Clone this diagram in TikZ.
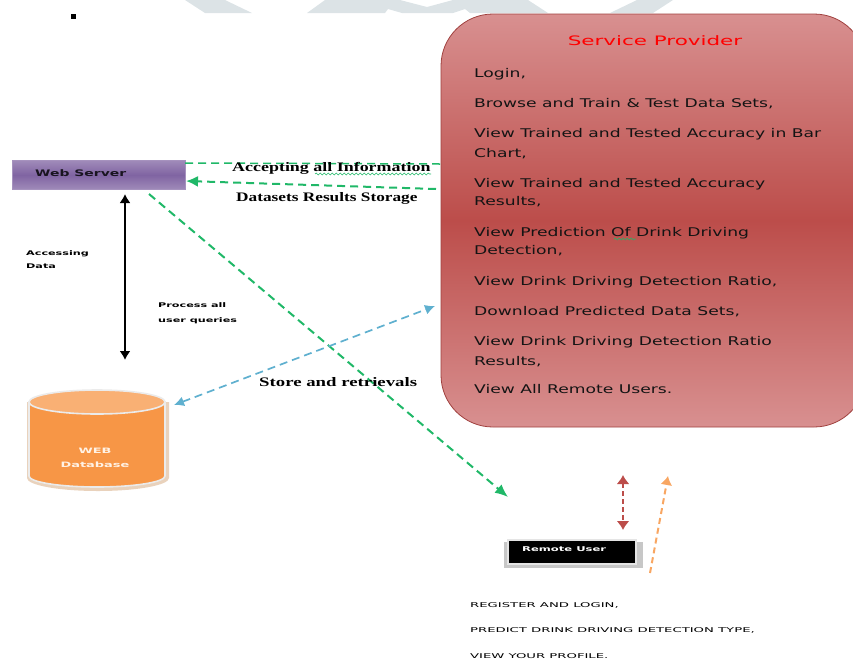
\documentclass[tikz,border=0pt]{standalone}
\usepackage{fontspec}
\setmainfont{Liberation Serif}
\setsansfont{DejaVu Sans}
\newfontfamily\itemfont[FakeStretch=1.43]{DejaVu Sans}
\newfontfamily\titlefont[FakeStretch=1.65]{DejaVu Sans}
\newfontfamily\capsfont[FakeStretch=2.0]{DejaVu Sans}
\newfontfamily\boxfont[FakeStretch=1.55]{DejaVu Sans}
\newfontfamily\smallfont[FakeStretch=1.75]{DejaVu Sans}
\newfontfamily\widefont[FakeStretch=1.38]{Liberation Serif}
\usetikzlibrary{arrows.meta,decorations.pathmorphing}
\definecolor{wm}{HTML}{DCE3E6}
\definecolor{sgreen}{HTML}{20B868}
\definecolor{sblue}{HTML}{5FB0CF}
\definecolor{redtop}{HTML}{D89090}
\definecolor{redmid}{HTML}{BC4D4A}
\definecolor{purp}{HTML}{8064A2}
\definecolor{orng}{HTML}{F79646}
\tikzset{
 x=1pt,y=-1pt,
 greenarrow/.style={draw=sgreen,line width=2pt,dash pattern=on 8pt off 5pt},
 bluearrow/.style={draw=sblue,line width=1.7pt,dash pattern=on 8pt off 5pt,{Latex[length=10pt,width=10pt]}-{Latex[length=10pt,width=10pt]}},
 item/.style={anchor=base west,font=\itemfont\fontsize{12}{14}\selectfont,text=black!92,inner sep=0pt},
 small/.style={anchor=base west,font=\smallfont\bfseries\fontsize{6.4}{8}\selectfont,inner sep=0pt},
 serifl/.style={anchor=base west,font=\widefont\bfseries\fontsize{13}{15}\selectfont,inner sep=0pt},
 caps/.style={anchor=base west,font=\capsfont\fontsize{6.6}{8}\selectfont,inner sep=0pt},
 squig/.style={draw=sgreen,line width=0.6pt,decorate,decoration={snake,amplitude=0.9pt,segment length=4pt}},
}
\begin{document}
\begin{tikzpicture}
\useasboundingbox (0,0) rectangle (853,659);
\fill[wm] (185,0)--(205,13)--(252,13)--(225,0)--cycle;
\fill[wm] (307,13)--(325,0)--(400,0)--(427,7)--(453,0)--(528,0)--(548,13)--(470,13)--(465,9)--(453,13)--(402,13)--(388,9)--(385,13)--cycle;
\fill[wm] (610,13)--(637,0)--(673,0)--(653,13)--cycle;
% service provider
\node[draw=redmid!85!black,line width=0.8pt,rounded corners=52pt,minimum width=425pt,minimum height=413pt,
 top color=redtop,bottom color=redtop,middle color=redmid] (sp) at (653.5,220.5) {};
\node[anchor=base,font=\titlefont\fontsize{13}{15}\selectfont,text=red] (title) at (655,45) {Service Provider};
\node[item] (i1) at (474,77) {Login,};
\node[item] (i2) at (474,107) {Browse and Train \& Test Data Sets,};
\node[item] (i3) at (474,137) {View Trained and Tested Accuracy in Bar};
\node[item] (i3b) at (474,157) {Chart,};
\node[item] (i4) at (474,187) {View Trained and Tested Accuracy};
\node[item] (i4b) at (474,205) {Results,};
\node[item] (i5) at (474,236) {View Prediction Of Drink Driving};
\node[item] (i5b) at (474,254) {Detection,};
\node[item] (i6) at (474,285) {View Drink Driving Detection Ratio,};
\node[item] (i7) at (474,315) {Download Predicted Data Sets,};
\node[item] (i8) at (474,345) {View Drink Driving Detection Ratio};
\node[item] (i8b) at (474,365) {Results,};
\node[item] (i9) at (474,393) {View All Remote Users.};
\draw[squig] (614,239) -- (636,239);
% web server
\node[draw=purp!70,line width=0.8pt,minimum width=173pt,minimum height=29pt,
 top color=purp!75,bottom color=purp!75,middle color=purp] (ws) at (98.5,175) {};
\node[anchor=base west,inner sep=0pt,font=\boxfont\bfseries\fontsize{9}{10}\selectfont,text=black!80!purp] (wst) at (35,176) {Web Server};
% database
\fill[brown!35] (27,402) -- (27,478) arc[start angle=180,end angle=0,x radius=71,y radius=13] -- (169,402) -- cycle;
\filldraw[draw=black!8,line width=1.6pt,fill=orng] (29,402) -- (29,476) arc[start angle=180,end angle=0,x radius=68,y radius=11] -- (165,402) -- cycle;
\filldraw[draw=black!8,line width=1.6pt,fill=orng!75!white] (97,402) ellipse[x radius=68,y radius=12];
\node[align=center,font=\smallfont\bfseries\fontsize{7.4}{14.5}\selectfont,text=white!90!orange] (dbt) at (95,458) {WEB\\Database};
% remote user
\fill[black!22] (504,542) rectangle (643,568);
\node[draw=black!10,line width=1.6pt,fill=black,minimum width=128pt,minimum height=24pt] (ru) at (572,552) {};
\node[anchor=base west,inner sep=0pt,font=\smallfont\bfseries\fontsize{6.6}{8}\selectfont,text=white] (rut) at (522,551) {Remote User};
% corner dot
\fill[black] (71,14) rectangle (76,19);
% connectors
\coordinate (a1) at (440,164); \coordinate (a2) at (185,163);
\draw[greenarrow,line width=1.5pt] (a2) -- (a1);
\coordinate (b1) at (436,189); \coordinate (b2) at (186,181);
\draw[greenarrow,-{Latex[length=12pt,width=11pt]}] (b1) -- (b2);
\coordinate (w1) at (125,194); \coordinate (w2) at (125,360);
\draw[black,line width=1.7pt,{Latex[length=9pt,width=11pt]}-{Latex[length=9pt,width=11pt]}] (w1) -- (w2);
\coordinate (c1) at (149,194); \coordinate (c2) at (508,497);
\draw[greenarrow,-{Latex[length=13pt,width=11pt]}] (c1) -- (c2);
\coordinate (d1) at (435,306); \coordinate (d2) at (174,405);
\draw[bluearrow] (d2) -- (d1);
\coordinate (e1) at (623,475); \coordinate (e2) at (623,530);
\draw[draw=redmid,line width=2pt,dash pattern=on 5pt off 3pt,{Latex[length=9pt,width=13pt]}-{Latex[length=9pt,width=13pt]}] (e1) -- (e2);
\coordinate (f1) at (650,573); \coordinate (f2) at (668,476);
\draw[draw=orng!85,line width=2pt,dash pattern=on 6pt off 4pt,-{Latex[length=9pt,width=12pt]}] (f1) -- (f2);
% labels
\node[serifl] (l1) at (232,171) {Accepting all Information};
\draw[squig] (315,174) -- (431,174);
\node[serifl,xscale=0.963] (l2) at (236,201) {Datasets Results Storage};
\node[serifl,xscale=1.047] (l3) at (259,386) {Store and retrievals};
\node[small] (l4) at (26,255) {Accessing};
\node[small] (l4b) at (26,268) {Data};
\node[small] (l5) at (158,307) {Process all};
\node[small] (l5b) at (158,322) {user queries};
\node[caps] (r1) at (470,607) {REGISTER AND LOGIN,};
\node[caps] (r2) at (470,632) {PREDICT DRINK DRIVING DETECTION TYPE,};
\node[caps] (r3) at (470,658) {VIEW YOUR PROFILE.};
\end{tikzpicture}
\end{document}
